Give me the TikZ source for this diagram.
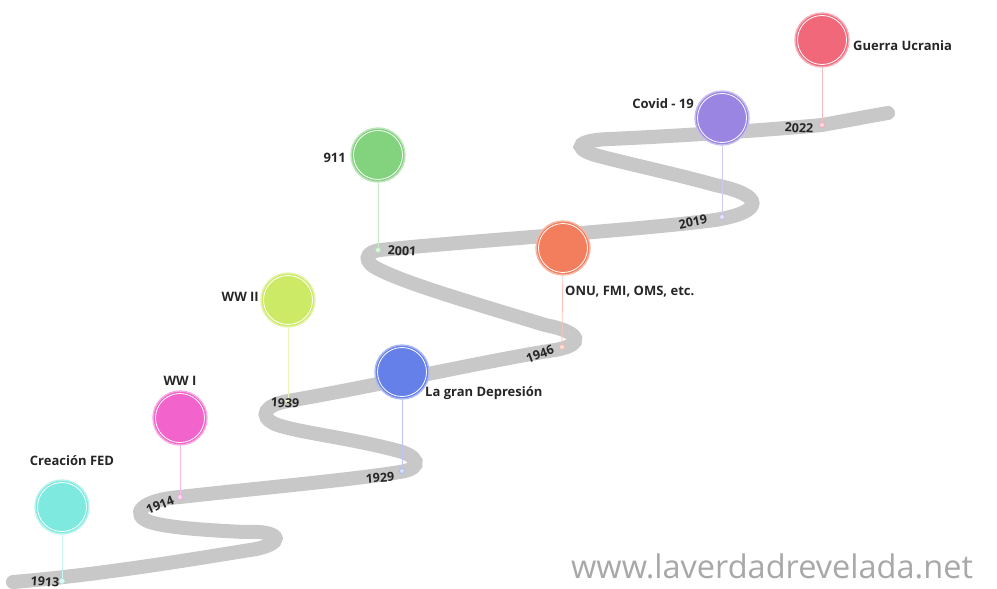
\documentclass[tikz,border=0pt]{standalone}
\usepackage{fontspec}
\setmainfont{Open Sans}
\begin{document}
\begin{tikzpicture}[x=1pt,y=-1pt,
  road/.style={line width=14pt,color=roadgray,line cap=round},
  pinc/.style={circle,minimum size=54pt,inner sep=0pt,fill=#1,draw=#1!55,line width=1.4pt},
  stem/.style={line width=0.8pt,color=#1!45},
  dotm/.style={circle,minimum size=5pt,inner sep=0pt,draw=#1!60,fill=#1!25,line width=0.6pt},
  lab/.style={font=\fontsize{13}{15}\selectfont\bfseries,text=black!85,inner sep=0pt},
  yr/.style={font=\fontsize{12.5}{14}\selectfont\bfseries,text=black!85,inner sep=0pt}]
\definecolor{roadgray}{HTML}{C8C8C8}
\definecolor{ccyan}{HTML}{7EEADF}
\definecolor{cmag}{HTML}{F263CC}
\definecolor{cyg}{HTML}{CDEA66}
\definecolor{cblue}{HTML}{6680EA}
\definecolor{cgreen}{HTML}{82D27E}
\definecolor{corange}{HTML}{F37E5E}
\definecolor{cpurple}{HTML}{9A85E2}
\definecolor{cred}{HTML}{F0687A}
\definecolor{wm}{HTML}{A8A8A8}
\useasboundingbox[fill=white] (0,0) rectangle (997,589);
% road
\draw[road] (13,582)
 .. controls (100,575) and (200,558) .. (250,550)
 .. controls (285,545) and (285,530) .. (245,532)
 .. controls (200,530) and (165,527) .. (150,522)
 .. controls (130,515) and (140,500) .. (180,497)
 .. controls (260,488) and (350,480) .. (400,472)
 .. controls (425,468) and (418,455) .. (395,450)
 .. controls (350,438) and (295,432) .. (275,424)
 .. controls (258,416) and (265,405) .. (288,401)
 .. controls (380,385) and (490,360) .. (555,350)
 .. controls (585,345) and (582,332) .. (545,325)
 .. controls (480,305) and (410,285) .. (380,270)
 .. controls (362,262) and (365,252) .. (380,250)
 .. controls (480,240) and (640,230) .. (715,220)
 .. controls (765,212) and (765,195) .. (715,185)
 .. controls (680,175) and (620,162) .. (595,155)
 .. controls (570,147) and (580,140) .. (610,139)
 .. controls (700,135) and (790,128) .. (822,125)
 .. controls (850,120) and (870,116) .. (888,113);
% dots on the road
\node[dotm=ccyan] (d1) at (62,581) {};
\node[dotm=cmag] (d2) at (180,497) {};
\node[dotm=cblue] (d3) at (402,471) {};
\node[dotm=cyg] (d4) at (288,401) {};
\node[dotm=corange] (d5) at (562,347) {};
\node[dotm=cgreen] (d6) at (378,250) {};
\node[dotm=cpurple] (d7) at (722,217) {};
\node[dotm=cred] (d8) at (822,125) {};
% circles
\node[pinc=ccyan] (c1) at (62,507) {};
\node[pinc=cmag] (c2) at (180,418) {};
\node[pinc=cblue] (c3) at (402,372) {};
\node[pinc=cyg] (c4) at (288,300) {};
\node[pinc=corange] (c5) at (563,248) {};
\node[pinc=cgreen] (c6) at (378,155) {};
\node[pinc=cpurple] (c7) at (722,118) {};
\node[pinc=cred] (c8) at (822,40) {};
\foreach \c in {c1,c2,c3,c4,c5,c6,c7,c8}{\draw[white,line width=0.8pt] (\c) circle (24.5);}
% stems
\draw[stem=ccyan] (c1) -- (d1);
\draw[stem=cmag] (c2) -- (d2);
\draw[stem=cblue] (c3) -- (d3);
\draw[stem=cyg] (c4) -- (d4);
\draw[stem=corange] (c5) -- (d5);
\draw[stem=cgreen] (c6) -- (d6);
\draw[stem=cpurple] (c7) -- (d7);
\draw[stem=cred] (c8) -- (d8);
% labels
\node[lab] (l1) at (72,461) {Creación FED};
\node[lab] (l2) at (180,381) {WW I};
\node[lab,anchor=east] (l4) at (259,297) {WW II};
\node[lab,anchor=west] (l3) at (425,393) {La gran Depresión};
\node[lab,anchor=east] (l6) at (346,158) {911};
\node[lab,anchor=west] (l5) at (565,292) {ONU, FMI, OMS, etc.};
\node[lab,anchor=east] (l7) at (694,104) {Covid - 19};
\node[lab,anchor=west] (l8) at (853,46) {Guerra Ucrania};
% years
\node[yr,rotate=-4] (y1) at (45,582) {1913};
\node[yr,rotate=22] (y2) at (160,505) {1914};
\node[yr,rotate=4] (y3) at (380,478) {1929};
\node[yr,rotate=-3] (y4) at (285,403) {1939};
\node[yr,rotate=20] (y5) at (540,354) {1946};
\node[yr,rotate=-3] (y6) at (402,251) {2001};
\node[yr,rotate=12] (y7) at (693,222) {2019};
\node[yr,rotate=-3] (y8) at (799,128) {2022};
% watermark
\node[font=\fontsize{32.5}{35}\selectfont,text=wm,anchor=base west,inner sep=0pt] (wmk) at (571,578) {www.laverdadrevelada.net};
\end{tikzpicture}
\end{document}
